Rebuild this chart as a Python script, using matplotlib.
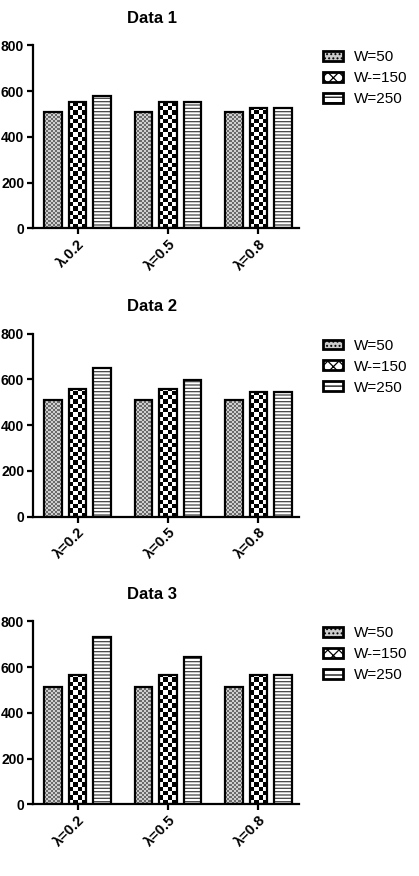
import numpy as np
import matplotlib
matplotlib.use("Agg")
import matplotlib.pyplot as plt
from matplotlib.patches import Patch
from matplotlib.colors import ListedColormap

plt.rcParams['font.family'] = ['Liberation Sans', 'DejaVu Sans']
plt.rcParams['hatch.linewidth'] = 0.9

# data
titles = ["Data 1", "Data 2", "Data 3"]
xlabels = [["λ.0.2", "λ=0.5", "λ=0.8"],
           ["λ=0.2", "λ=0.5", "λ=0.8"],
           ["λ=0.2", "λ=0.5", "λ=0.8"]]
series = ["W=50", "W-=150", "W=250"]
w50 = [[509, 509, 509], [510, 510, 510], [512, 512, 512]]
w150 = [[554, 554, 525], [558, 558, 544], [565, 565, 565]]
w250 = [[577, 554, 525], [651, 597, 544], [731, 644, 565]]

bar_w = 0.195
offs = [-0.272, 0.0, 0.272]
bottoms_px = [228.3, 516.7, 804.3]

fig = plt.figure(figsize=(4.19, 8.76), dpi=100)
W, H = 419, 876


def checker(ax, bars, cell_h, ncols, colors):
    cmap = ListedColormap(colors)
    for b in bars:
        x0, w, h = b.get_x(), b.get_width(), b.get_height()
        nrows = int(np.ceil(h / cell_h))
        img = (np.add.outer(np.arange(nrows), np.arange(ncols)) % 2).astype(float)
        im = ax.imshow(img, cmap=cmap, extent=(x0, x0 + w, 0, nrows * cell_h),
                       origin='lower', aspect='auto', interpolation='nearest',
                       vmin=0, vmax=1, zorder=2.5)
        im.set_clip_path(b)


for i in range(3):
    ax = fig.add_axes([32.5 / W, (H - bottoms_px[i]) / H, 266.5 / W, 183 / H])
    x = np.arange(3)
    vals = [w50[i], w150[i], w250[i]]

    # fills
    b1 = ax.bar(x + offs[0], vals[0], bar_w, color='#999999', lw=0, zorder=2)
    checker(ax, b1, 8.7, 8, ['#cfcfcf', '#6a6a6a'])
    b2 = ax.bar(x + offs[1], vals[1], bar_w, color='white', lw=0, zorder=2)
    checker(ax, b2, 19.0, 4, ['white', 'black'])
    ax.bar(x + offs[2], vals[2], bar_w, color='white', hatch='-----',
           edgecolor='#444444', lw=0, zorder=2)
    # outlines
    for k in range(3):
        ax.bar(x + offs[k], vals[k], bar_w, fill=False, edgecolor='black',
               lw=1.6, zorder=3)

    ax.set_xlim(-0.5, 2.45)
    ax.set_ylim(0, 800)
    ax.set_yticks([0, 200, 400, 600, 800])
    ax.set_xticks(x)
    ax.set_xticklabels(xlabels[i], rotation=45, ha='right', va='top',
                       rotation_mode='anchor', fontweight='bold', fontsize=10.5)
    for lab in ax.get_yticklabels():
        lab.set_fontweight('bold')
        lab.set_fontsize(10)
    for s in ['top', 'right']:
        ax.spines[s].set_visible(False)
    for s in ['left', 'bottom']:
        ax.spines[s].set_linewidth(1.6)
    ax.tick_params(width=1.6, length=4, pad=2)
    ax.set_title(titles[i], fontsize=12, fontweight='bold', pad=16, x=0.45)

    handles = [Patch(facecolor='#cccccc', edgecolor='black', hatch='....', lw=2),
               Patch(facecolor='white', edgecolor='black', hatch='xxx', lw=2),
               Patch(facecolor='white', edgecolor='black', hatch='---', lw=2)]
    ax.legend(handles, series, loc='upper left', bbox_to_anchor=(1.089, 0.972),
              frameon=False, fontsize=11, borderpad=0, borderaxespad=0,
              handlelength=1.35, handleheight=0.6, handletextpad=0.7,
              labelspacing=0.45)

fig.savefig('out.png', dpi=100)
